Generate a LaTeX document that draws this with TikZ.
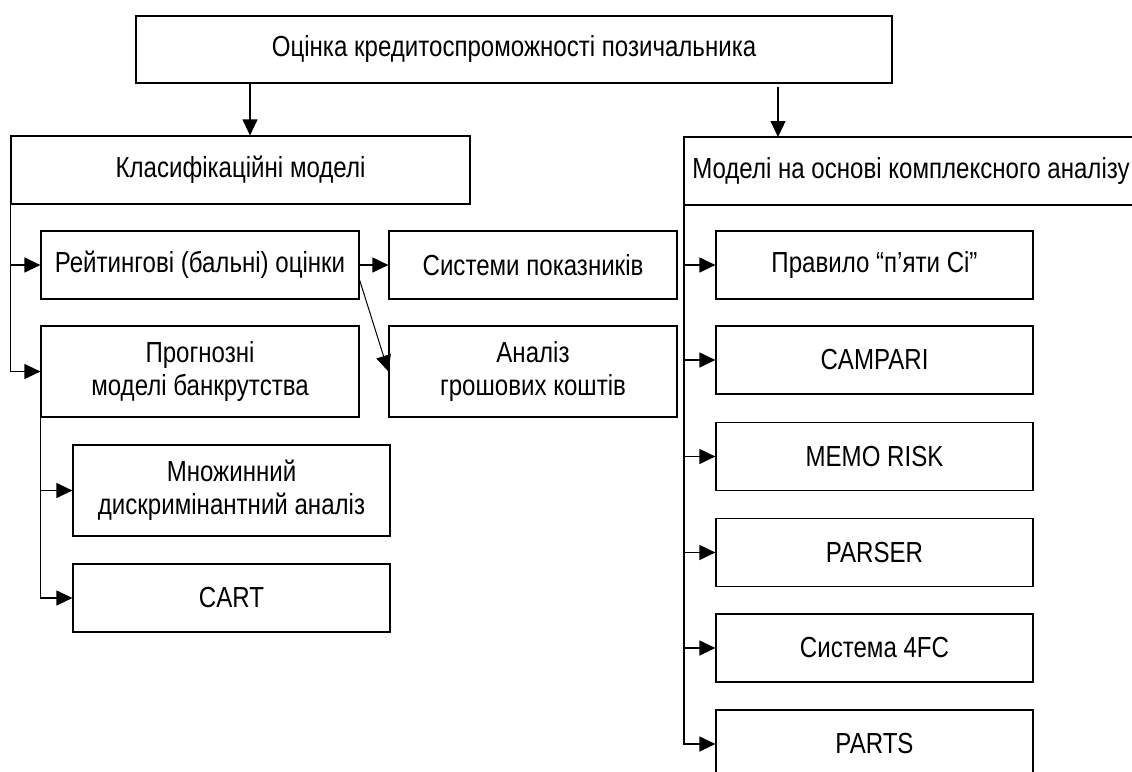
\documentclass[tikz,border=0pt]{standalone}
\usepackage{fontspec}
\setmainfont{Liberation Sans}[FakeStretch=0.83]
\usetikzlibrary{arrows.meta}
\begin{document}
\begin{tikzpicture}[x=1pt,y=-1pt,
  every node/.style={font=\fontsize{29}{33}\selectfont, inner sep=0pt, align=center},
  box/.style={draw, line width=1.2pt},
  sz/.style 2 args={minimum width=#1, minimum height=#2},
  link/.style={line width=1.2pt},
  arr/.style={line width=1.2pt, -{Triangle[length=16pt,width=15pt]}},
]
\useasboundingbox (0,0) rectangle (1132,771);
\clip (0,0) rectangle (1132,771);
\fill[white] (0,0) rectangle (1132,771);

% root
\node[box, sz={756}{67}] (top) at (514,49.5) {Оцінка кредитоспроможності позичальника};

% two main branches
\node[box, sz={459}{68}] (cls) at (240.5,170) {Класифікаційні моделі};
\node (cmp) at (911,171) {Моделі на основі комплексного аналізу};
\coordinate (cmpNW) at (684,137);
\coordinate (cmpSW) at (684,205);
\coordinate (edge) at (1132,0);
\draw[link] (cmpNW -| edge) -- (cmpNW) -- (cmpSW) -- (cmpSW -| edge);

% classification models
\node[box, sz={318}{68}] (rat)  at (200,265)   {Рейтингові (бальні) оцінки};
\node[box, sz={288}{68}] (sys)  at (533,265)   {Системи показників};
\node[box, sz={318}{91}] (prog) at (200,371.5) {Прогнозні\\моделі банкрутства};
\node[box, sz={288}{91}] (cash) at (533,371.5) {Аналіз\\грошових коштів};
\node[box, sz={317}{91}] (mda)  at (231.5,490.5) {Множинний\\дискримінантний аналіз};
\node[box, sz={317}{68}] (cart) at (231.5,598) {CART};

% complex analysis models
\node[box, sz={317}{68}] (c5)    at (874.5,265)   {Правило “п’яти Сі”};
\node[box, sz={317}{68}] (camp)  at (874.5,360)   {CAMPARI};
\node[box, sz={317}{68}] (memo)  at (874.5,456.5) {MEMO RISK};
\node[box, sz={317}{68}] (pars)  at (874.5,552.5) {PARSER};
\node[box, sz={317}{68}] (fc)    at (874.5,648)   {Система 4FC};
\node[box, sz={317}{68}] (parts) at (874.5,744)   {PARTS};

% root to branches
\draw[arr] ([xshift=9.5pt]cls.north |- top.south) -- ([xshift=9.5pt]cls.north);
\draw[arr, shorten <=3pt] ([xshift=94pt]cmpNW |- top.south) -- ([xshift=94pt]cmpNW);

% left trunk
\draw[arr] (cls.south west) |- (prog.west);
\draw[arr] (cls.south west |- rat.west) -- (rat.west);
\draw[arr] (rat.east) -- (sys.west);
\draw[arr, line width=1pt] ([yshift=-15pt]rat.east) -- (cash.west);

% bankruptcy models trunk
\draw[arr] (prog.south west) |- (cart.west);
\draw[arr] (prog.south west |- mda.west) -- (mda.west);

% right trunk
\draw[arr] (cmpSW) |- (parts.west);
\foreach \n in {c5,camp,memo,pars,fc}
  \draw[arr] (cmpSW |- \n.west) -- (\n.west);
\end{tikzpicture}
\end{document}
